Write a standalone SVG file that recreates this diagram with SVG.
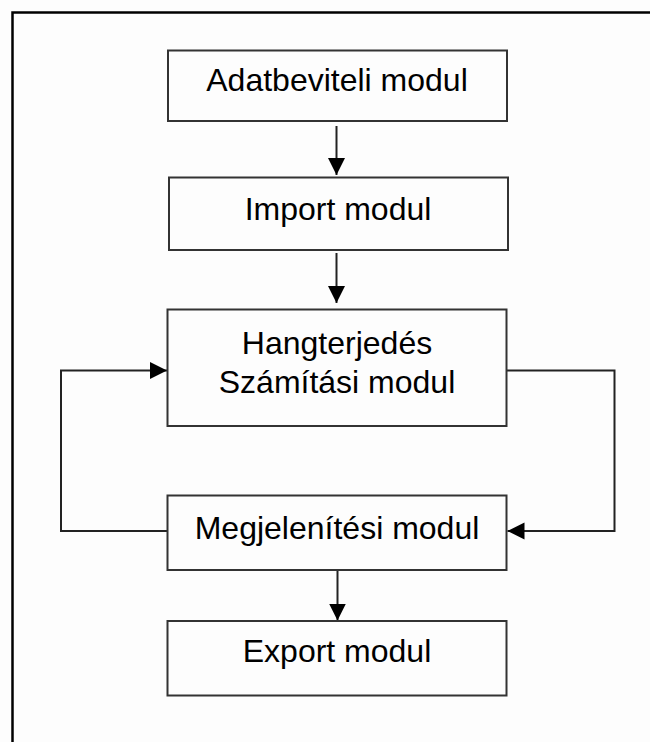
<svg xmlns="http://www.w3.org/2000/svg" width="650" height="742" viewBox="0 0 650 742">
<style>
.box{fill:#fdfdfd;stroke:#333;stroke-width:2}
.lbl{font-family:"Liberation Sans",Arial,sans-serif;font-size:32px;fill:#000;text-anchor:middle}
.conn{fill:none;stroke:#222;stroke-width:2}
</style>
<defs>
<marker id="ah" markerUnits="userSpaceOnUse" markerWidth="18" markerHeight="18" refX="17" refY="8.5" orient="auto">
<path d="M0,0 L17,8.5 L0,17 z" fill="#000"/>
</marker>
</defs>
<rect x="0" y="0" width="650" height="742" fill="#fdfdfd"/>
<path d="M12.5,742 V12.5 H650" fill="none" stroke="#000" stroke-width="2.5"/>
<g id="connectors">
<path class="conn" d="M336.5,126 V175" marker-end="url(#ah)"/>
<path class="conn" d="M336.5,253 V303" marker-end="url(#ah)"/>
<path class="conn" d="M167.5,531 H61 V370.5 H167" marker-end="url(#ah)"/>
<path class="conn" d="M507,370.5 H614.5 V531 H507.5" marker-end="url(#ah)"/>
<path class="conn" d="M337.5,570 V620.5" marker-end="url(#ah)"/>
</g>
<g id="n1"><rect class="box" x="168" y="50.5" width="339" height="70.5"/><text class="lbl" x="337" y="91">Adatbeviteli modul</text></g>
<g id="n2"><rect class="box" x="169" y="177.5" width="339" height="72.5"/><text class="lbl" x="338" y="219.5">Import modul</text></g>
<g id="n3"><rect class="box" x="167.5" y="309.5" width="339" height="116.5"/><text class="lbl" x="337" y="354">Hangterjedés</text><text class="lbl" x="337" y="393">Számítási modul</text></g>
<g id="n4"><rect class="box" x="167.5" y="495.5" width="339" height="74.5"/><text class="lbl" x="337" y="539">Megjelenítési modul</text></g>
<g id="n5"><rect class="box" x="167.5" y="621" width="339" height="74.5"/><text class="lbl" x="337" y="662">Export modul</text></g>
</svg>
